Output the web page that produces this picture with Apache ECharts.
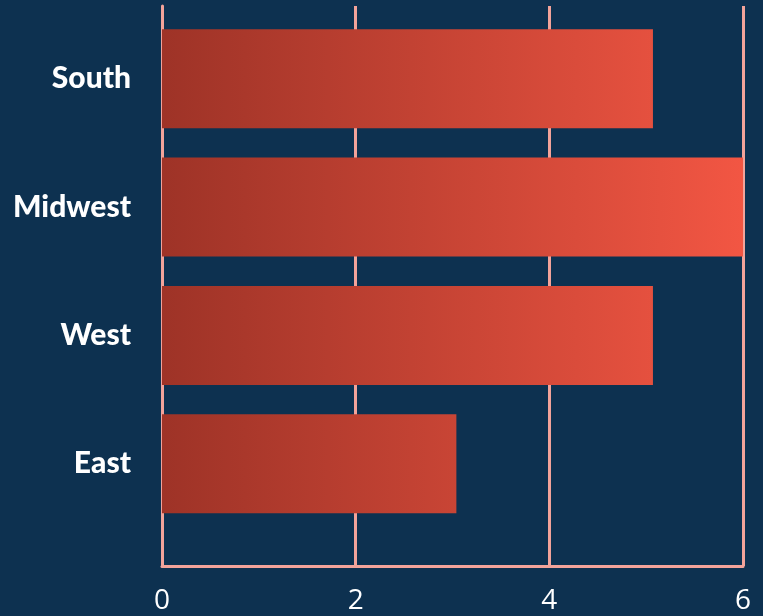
<!DOCTYPE html>
<html>
<head>
<meta charset="utf-8">
<script src="https://cdn.jsdelivr.net/npm/echarts@6/dist/echarts.min.js"></script>
<style>
html,body{margin:0;padding:0;background:#0d3150;}
#c{width:763px;height:616px;}
</style>
</head>
<body>
<div id="c"></div>
<script>
const categories = ['East', 'West', 'Midwest', 'South'];
const values = [3.04, 5.07, 6, 5.07];
const xTicks = [0, 2, 4, 6];

const chart = echarts.init(document.getElementById('c'), null, {renderer: 'canvas'});
const gridLeft = 162, gridRight = 20;
const option = {
  backgroundColor: '#0d3150',
  animation: false,
  grid: [
    {left: gridLeft, right: gridRight, top: 6, bottom: 50},
    {left: gridLeft, right: gridRight, top: 14.5, height: 513.5}
  ],
  xAxis: [
    {
      gridIndex: 0, type: 'value', min: xTicks[0], max: xTicks[xTicks.length - 1], interval: 2,
      axisLine: {show: true, lineStyle: {color: '#f2a39a', width: 3}},
      axisTick: {show: false},
      splitLine: {show: true, lineStyle: {color: '#f2a39a', width: 3}},
      axisLabel: {color: '#ffffff', fontFamily: 'Open Sans', fontWeight: 'normal', fontSize: 28, margin: 21}
    },
    {
      gridIndex: 1, type: 'value', min: xTicks[0], max: xTicks[xTicks.length - 1],
      show: false
    }
  ],
  yAxis: [
    {
      gridIndex: 0, type: 'value', min: 0, max: 1,
      axisLine: {show: true, lineStyle: {color: '#f2a39a', width: 3}},
      axisTick: {show: false}, axisLabel: {show: false}, splitLine: {show: false}
    },
    {
      gridIndex: 1, type: 'category', data: categories,
      axisLine: {show: false}, axisTick: {show: false}, splitLine: {show: false},
      axisLabel: {color: '#ffffff', fontFamily: 'Lato', fontWeight: 900, fontSize: 30, margin: 31,
                  padding: [5, 0, 0, 0]}
    }
  ],
  series: [{
    type: 'bar',
    xAxisIndex: 1, yAxisIndex: 1,
    data: values,
    barCategoryGap: '22.8%',
    itemStyle: {
      color: new echarts.graphic.LinearGradient(gridLeft, 0, 763 - gridRight, 0, [
        {offset: 0, color: '#9e3327'},
        {offset: 1, color: '#f25643'}
      ], true)
    }
  }]
};
chart.setOption(option);
</script>
</body>
</html>
